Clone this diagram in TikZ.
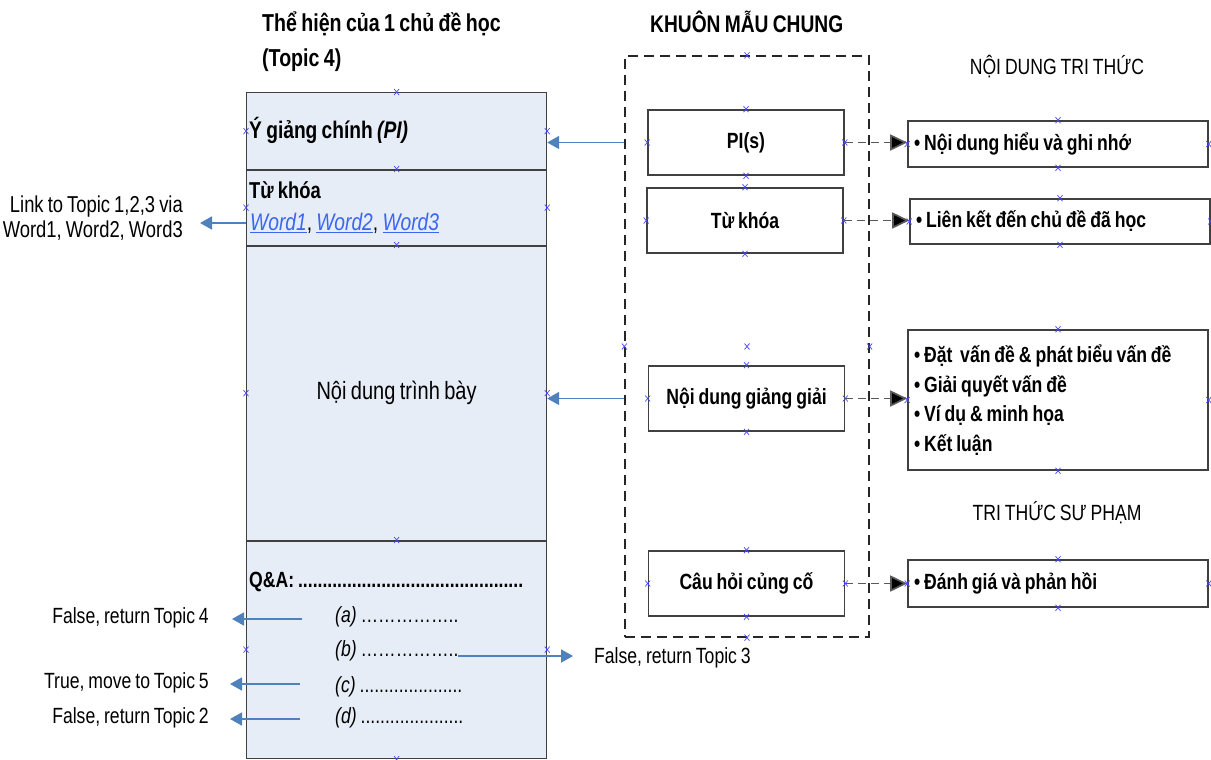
\documentclass[tikz,border=0pt]{standalone}
\usepackage{fontspec}
\setmainfont{Liberation Sans}[FakeStretch=0.8,WordSpace=0.8]
\usetikzlibrary{arrows.meta}
\definecolor{bblue}{HTML}{4F81BD}
\definecolor{fillb}{HTML}{E7EDF7}
\definecolor{lnk}{HTML}{3A66F0}
\definecolor{xmc}{HTML}{4646FF}
\definecolor{edge}{HTML}{404040}
\newcommand\fs[2]{\fontsize{#1}{#2}\selectfont}
\newcommand\lk[1]{{\color{lnk}\itshape\underline{#1}}}
\newcommand\xmk[2]{\foreach \a in {#2}{\draw[xmc,line width=0.7pt] ([shift={(-2.5,-3)}]#1.\a) -- ([shift={(2.5,3)}]#1.\a) ([shift={(-2.5,3)}]#1.\a) -- ([shift={(2.5,-3)}]#1.\a);}}
\tikzset{
  sec/.style={draw=edge, line width=1.2pt, fill=fillb, minimum width=300, inner sep=0, anchor=north west},
  divider/.style={draw=edge, line width=2.4pt},
  mbox/.style={draw=edge, line width=1.6pt, fill=white, minimum width=196, minimum height=65, inner sep=0, font=\bfseries\fs{22}{26}},
  rbox/.style={draw=edge, line width=1.6pt, fill=white, minimum width=300, text width=288, inner xsep=6, inner ysep=0, align=flush left, font=\bfseries\fs{22}{29.7}},
  tmplbox/.style={draw=black!85, line width=1.3pt, dash pattern=on 10pt off 6pt, minimum width=244, minimum height=581, inner sep=0},
  barrow/.style={draw=bblue, line width=1.8pt, -{Triangle[length=12pt,width=13pt]}},
  darrow/.style={draw=black!65, line width=1.7pt, dash pattern=on 8pt off 5pt, -{Triangle[length=17pt,width=16pt,fill=black]}},
  txt/.style={inner sep=0, font=\fs{22}{25}},
  btxt/.style={inner sep=0, font=\bfseries\fs{22}{25}},
}
\begin{document}
\begin{tikzpicture}[x=1pt,y=-1pt]
\useasboundingbox (0,0) rectangle (1211,760);
% left topic box
\node[sec, minimum height=77] (sec1) at (246,92) {};
\node[sec, minimum height=76] (sec2) at (246,169) {};
\node[sec, minimum height=295] (sec3) at (246,245) {};
\node[sec, minimum height=218] (sec4) at (246,540) {};
\draw[divider] (sec1.south west) -- (sec1.south east);
\draw[divider] (sec2.south west) -- (sec2.south east);
\draw[divider] (sec3.south west) -- (sec3.south east);
\node[txt, font=\fs{25}{26}] (ndtb) at (sec3.center) {Nội dung trình bày};
% titles
\node[btxt, font=\bfseries\fs{24.5}{35}, align=flush left, anchor=north west] (title) at (262,12) {Thể hiện của 1 chủ đề học\\(Topic 4)};
\node[btxt, font=\bfseries\fs{24}{26}, anchor=west] (ktitle) at (650,22) {KHUÔN MẪU CHUNG};
\node[txt] (ndtt) at (1057,67) {NỘI DUNG TRI THỨC};
\node[txt] (ttsp) at (1057,513) {TRI THỨC SƯ PHẠM};
% section texts
\node[btxt, font=\bfseries\fs{24}{26}, anchor=west] (pit) at (249,130) {Ý giảng chính \textit{(PI)}};
\node[btxt, font=\bfseries\fs{23}{26}, anchor=west] (kwt) at (249,190) {Từ khóa};
\node[txt, font=\fs{24}{26}, anchor=west] (words) at (250,223) {\lk{Word1}, \lk{Word2}, \lk{Word3}};
\node[btxt, anchor=west] (qat) at (249,582) {Q\&A: ..............................................};
\node[txt, anchor=west] (qa1) at (335,617) {\textit{(a)} ……………..};
\node[txt, anchor=west] (qb1) at (335,651) {\textit{(b)} ……………..};
\node[txt, anchor=west] (qc1) at (335,687) {\textit{(c)} .....................};
\node[txt, anchor=west] (qd1) at (335,718) {\textit{(d)} .....................};
% left labels
\node[txt, font=\fs{23}{25}, align=flush right, anchor=east] (link) at (183,218) {Link to Topic 1,2,3 via\\Word1, Word2, Word3};
\node[txt, anchor=east] (fa) at (209,618) {False, return Topic 4};
\node[txt, anchor=east] (tc) at (209,683) {True, move to Topic 5};
\node[txt, anchor=east] (fd) at (209,718) {False, return Topic 2};
\node[txt, anchor=west] (fb) at (594,658) {False, return Topic 3};
\coordinate (qa) at (302,619);
\coordinate (qb) at (458,656);
\coordinate (qc) at (300,684);
\coordinate (qd) at (300,719);
% template
\node[tmplbox] (tmpl) at (747,346.5) {};
\node[mbox] (pis) at (746,142.5) {PI(s)};
\node[mbox] (kw) at (745,220.5) {Từ khóa};
\node[mbox] (ndg) at (746.5,398.5) {Nội dung giảng giải};
\node[mbox] (chc) at (746.5,583.5) {Câu hỏi củng cố};
% right boxes
\node[rbox, minimum height=46] (r1) at (1058,144) {• Nội dung hiểu và ghi nhớ};
\node[rbox, minimum height=45] (r2) at (1060,221.5) {• Liên kết đến chủ đề đã học};
\node[rbox, minimum height=140] (r3) at (1058,400) {• Đặt\ \ vấn đề \& phát biểu vấn đề\\• Giải quyết vấn đề\\• Ví dụ \& minh họa\\• Kết luận};
\node[rbox, minimum height=47] (r4) at (1058,583.5) {• Đánh giá và phản hồi};
% connectors
\draw[barrow] (tmpl.west |- pis.west) -- (sec1.east |- pis.west);
\draw[barrow] (tmpl.west |- ndg.west) -- (sec3.east |- ndg.west);
\draw[barrow, shorten >=17pt] (sec2.west |- words) -- (link.east |- words);
\draw[barrow, shorten >=23pt] (qa) -- (qa -| fa.east);
\draw[barrow, shorten >=21pt] (qc) -- (qc -| tc.east);
\draw[barrow, shorten >=21pt] (qd) -- (qd -| fd.east);
\draw[barrow, shorten >=21pt] (qb) -- (qb -| fb.west);
\draw[darrow] (pis.east) -- (pis.east -| r1.west);
\draw[darrow] (kw.east) -- (kw.east -| r2.west);
\draw[darrow] (ndg.east) -- (ndg.east -| r3.west);
\draw[darrow] (chc.east) -- (chc.east -| r4.west);
% connection-point marks
\xmk{sec1}{north,west,east}
\xmk{sec2}{north,west,east}
\xmk{sec3}{north,west,east}
\xmk{sec4}{north,west,east,south}
\xmk{tmpl}{north,west,east,south,center}
\xmk{pis}{north,west,east,south}
\xmk{kw}{north,west,east,south}
\xmk{ndg}{north,west,east,south}
\xmk{chc}{north,west,east,south}
\xmk{r1}{north,west,east,south}
\xmk{r2}{north,west,east,south}
\xmk{r3}{north,west,east,south}
\xmk{r4}{north,west,east,south}
\end{tikzpicture}
\end{document}
